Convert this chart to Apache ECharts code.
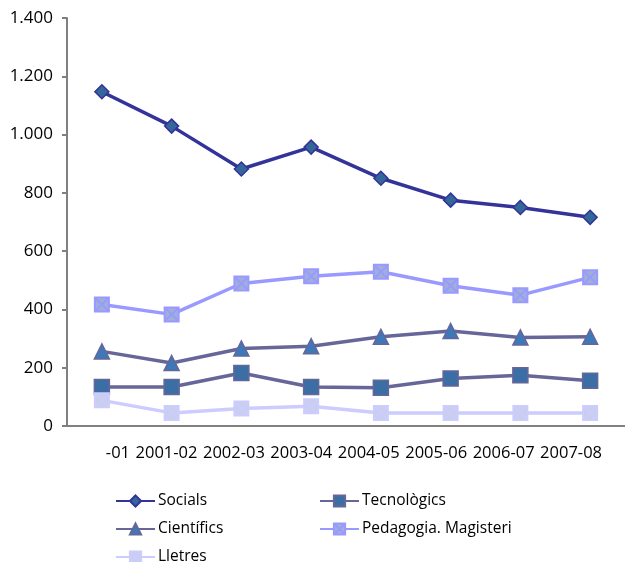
<!DOCTYPE html>
<html>
<head>
<meta charset="utf-8">
<script src="https://cdn.jsdelivr.net/npm/echarts@6/dist/echarts.min.js"></script>
<style>html,body{margin:0;padding:0;background:#fff}#c{width:625px;height:562px}</style>
</head>
<body>
<div id="c"></div>
<script>
var categories = ['-01', '2001-02', '2002-03', '2003-04', '2004-05', '2005-06', '2006-07', '2007-08'];
var socials = [1147, 1029, 882, 957, 850, 775, 750, 716];
var tecnologics = [134, 134, 182, 134, 131, 163, 174, 155];
var cientifics = [256, 216, 266, 274, 306, 326, 304, 306];
var pedagogia = [417, 383, 489, 514, 529, 481, 449, 510];
var lletres = [88, 45, 60, 68, 45, 45, 45, 45];

var xSymbol = 'path://M0,0 L10,0 L10,10 L0,10 Z M0,0 L10,10 M10,0 L0,10';
var font = '"Open Sans", sans-serif';

function fmt(v) {
  var s = String(v);
  return s.length > 3 ? s.slice(0, s.length - 3) + '.' + s.slice(s.length - 3) : s;
}

function mk(name, data, lineColor, symbol, size, fill, border, bw) {
  return {
    name: name, type: 'line', data: data,
    xAxisIndex: 0, yAxisIndex: 0,
    symbol: symbol, symbolSize: size,
    lineStyle: { color: lineColor, width: 3.5 },
    itemStyle: { color: fill, borderColor: border, borderWidth: bw },
    color: lineColor,
    emphasis: { disabled: true },
    animation: false
  };
}

function lg(name, left, top) {
  return {
    orient: 'horizontal', left: left, top: top, padding: 0, itemWidth: 39, itemHeight: 14,
    data: [name],
    textStyle: { color: '#000', fontSize: 15.5, fontFamily: font, padding: [0, 0, 0, -2] }
  };
}

var chart = echarts.init(document.getElementById('c'), null, { renderer: 'canvas' });
chart.setOption({
  animation: false,
  grid: [
    { left: 67, top: 18, width: 560, height: 408 },
    { left: 130, top: 18, width: 472, height: 408 }
  ],
  xAxis: [
    {
      type: 'category', gridIndex: 0, data: categories, boundaryGap: true,
      axisLine: { lineStyle: { color: '#808080', width: 2 } },
      axisTick: { show: false }, axisLabel: { show: false }
    },
    {
      type: 'category', gridIndex: 1, data: categories, boundaryGap: false,
      axisLine: { show: false }, axisTick: { show: false },
      axisLabel: { align: 'right', margin: 19, color: '#000', fontSize: 16.5, fontFamily: font, interval: 0 }
    }
  ],
  yAxis: [
    {
      type: 'value', gridIndex: 0, min: 0, max: 1400, interval: 200,
      axisLine: { show: true, lineStyle: { color: '#808080', width: 2 } },
      axisTick: { show: true, length: 5, inside: false, lineStyle: { color: '#808080', width: 2 } },
      splitLine: { show: false },
      axisLabel: { color: '#000', fontSize: 17, fontFamily: font, margin: 14, formatter: fmt }
    },
    { type: 'value', gridIndex: 1, show: false }
  ],
  legend: [
    lg('Socials', 115, 493),
    lg('Científics', 115, 521),
    lg('Lletres', 115, 549),
    lg('Tecnològics', 319, 493),
    lg('Pedagogia. Magisteri', 319, 521)
  ],
  series: [
    mk('Socials', socials, '#333399', 'diamond', 14, '#336699', '#333399', 1.5),
    mk('Tecnològics', tecnologics, '#666699', 'rect', 15, '#3a6ea5', '#666699', 1.5),
    mk('Científics', cientifics, '#666699', 'triangle', 15, '#3d78b8', '#666699', 1.5),
    mk('Pedagogia. Magisteri', pedagogia, '#9999ff', xSymbol, 14, '#9fb0d6', '#9999ff', 2),
    mk('Lletres', lletres, '#ccccff', xSymbol, 14, '#c8cfe8', '#ccccff', 2)
  ]
});
</script>
</body>
</html>
